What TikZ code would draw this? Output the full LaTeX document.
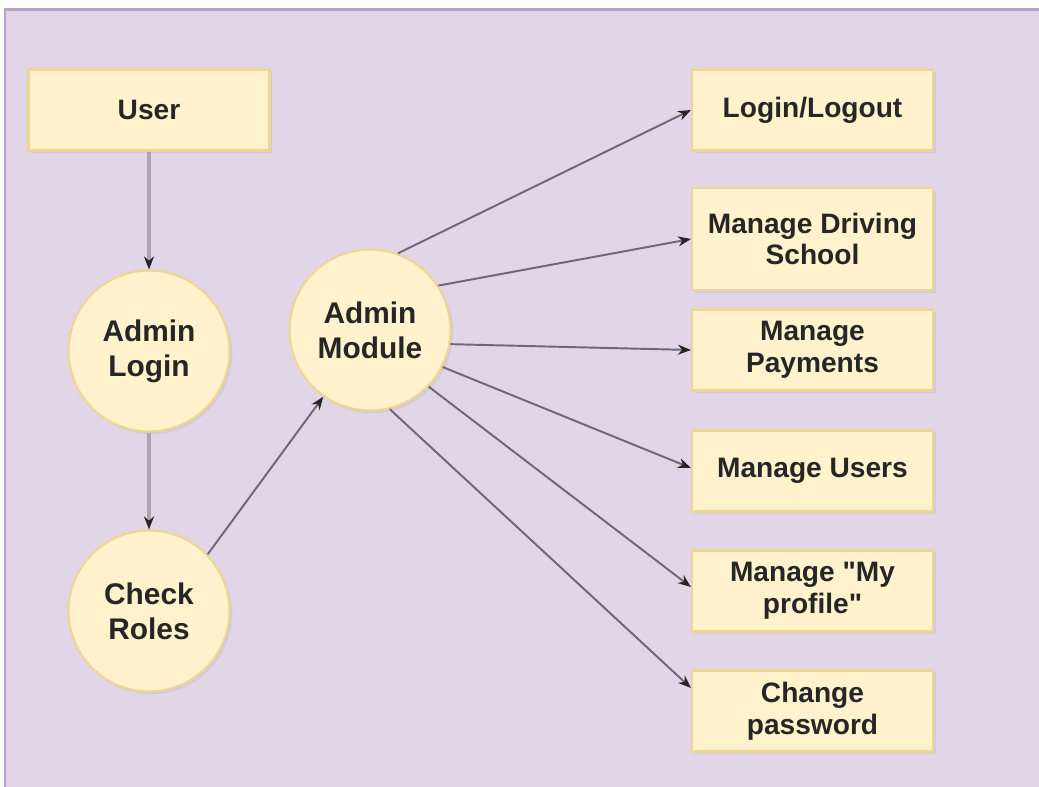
\documentclass[tikz,border=0pt]{standalone}
\usepackage{fontspec}
\setmainfont{Liberation Sans}[Ligatures=TeXOff]
\usetikzlibrary{arrows.meta,shadows}
\definecolor{bgpurple}{HTML}{E1D5E7}
\definecolor{bgline}{HTML}{B7A2C9}
\definecolor{notefill}{HTML}{FFF2CC}
\definecolor{noteline}{HTML}{EDD593}
\definecolor{edgegray}{HTML}{6F6679}
\definecolor{stemgray}{HTML}{ADA3B5}

\begin{document}
\begin{tikzpicture}[x=0.02cm,y=-0.02cm,
    box/.style={draw=noteline,fill=notefill,line width=1.2pt,
      minimum width=4.82cm,minimum height=1.62cm,inner sep=0pt,align=center,
      font=\fontsize{16}{18}\selectfont\bfseries,text=black!85,
      drop shadow={shadow xshift=1.5pt,shadow yshift=-1.5pt,fill=black,opacity=0.05}},
    bubble/.style={circle,draw=noteline,fill=notefill,line width=1.2pt,
      minimum size=3.22cm,inner sep=0pt,align=center,
      font=\fontsize{17}{20}\selectfont\bfseries,text=black!85,
      drop shadow={shadow xshift=1.5pt,shadow yshift=-1.5pt,fill=black,opacity=0.05}},
    link/.style={draw=edgegray,line width=1.1pt,
      -{Stealth[length=0.26cm,width=0.2cm,color=black!85]}},
    stem/.style={link,draw=stemgray,line width=2.3pt}]
    \useasboundingbox (0,0) rectangle (1039,787);
    \clip (0,0) rectangle (1039,787);
    \draw[bgline,fill=bgpurple,line width=1.7pt] (5,9.5) rectangle (1060,810);

    \node[box] (user) at (149,110) {User};
    \node[bubble] (alogin) at (149,351) {Admin\\Login};
    \node[bubble] (chkroles) at (149,611) {Check\\Roles};
    \node[bubble] (amodule) at (370,330) {Admin\\Module};

    \node[box] (lgo) at (812.5,110) {Login/Logout};
    \node[box,minimum height=2.04cm] (drvschool) at (812.5,239) {Manage Driving\\School};
    \node[box] (pay) at (812.5,350) {Manage\\Payments};
    \node[box] (users) at (812.5,471) {Manage Users};
    \node[box] (profile) at (812.5,591) {Manage "My\\profile"};
    \node[box] (passwd) at (812.5,711) {Change\\password};

    \draw[stem] (user) -- (alogin);
    \draw[stem] (alogin) -- (chkroles);
    \draw[link] (chkroles.44.5) -- (amodule.235.6);
    \draw[link] (amodule.70.3) -- (lgo.west);
    \draw[link] (amodule.33.7) -- (drvschool.west);
    \draw[link] (amodule.-10.4) -- (pay.west);
    \draw[link] (amodule.-27.8) -- ([yshift=0.06cm]users.west);
    \draw[link] (amodule.-44) -- ([yshift=0.08cm]profile.west);
    \draw[link] (amodule.-76) -- ([yshift=0.46cm]passwd.west);
\end{tikzpicture}
\end{document}
